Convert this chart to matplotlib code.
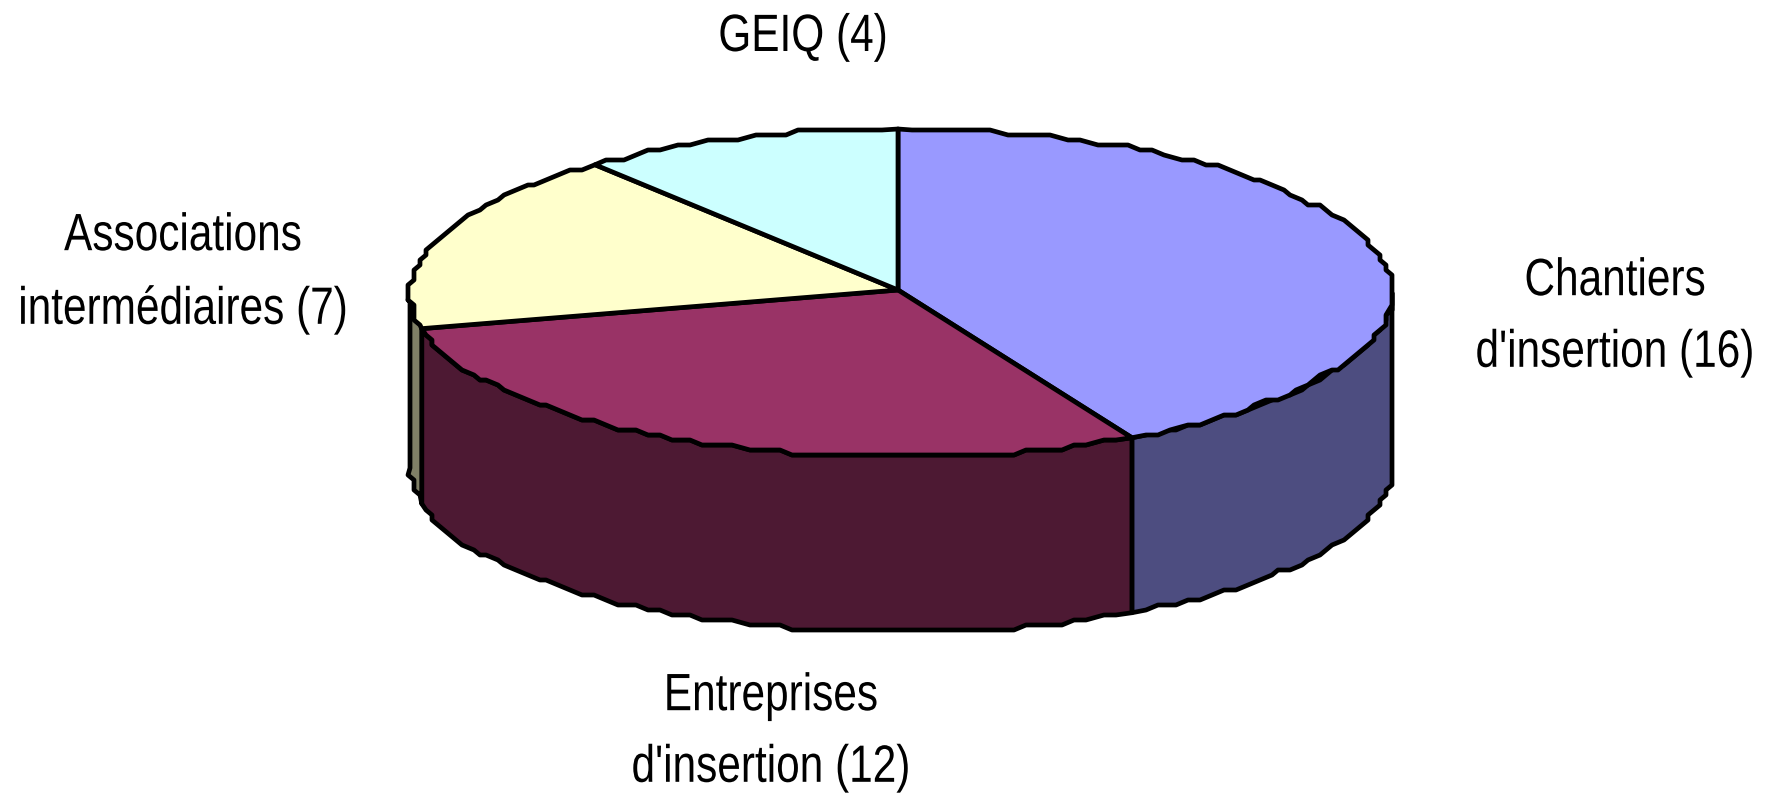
"""3D-look pie of insertion structures, drawn by hand since matplotlib has no 3D pie."""
import numpy as np
import matplotlib
matplotlib.use("Agg")
import matplotlib.pyplot as plt
from matplotlib.patheffects import AbstractPathEffect

plt.rcParams["font.family"] = ["Liberation Sans", "DejaVu Sans"]

W, H = 1775, 796

# clockwise from 12 o'clock
names = ["Chantiers\nd'insertion", "Entreprises\nd'insertion", "Associations\nintermédiaires", "GEIQ"]
counts = [16, 12, 7, 4]
# slice sizes, they differ a bit from the counts
slice_deg = [152.3, 105.5, 64.0, 38.2]
top_colors = ["#9999FF", "#993366", "#FFFFCC", "#CCFFFF"]
side_colors = ["#4D4D80", "#4D1933", "#808066", "#668080"]
label_pos = [(1615, 320), (771, 735), (183, 276), (803, 40)]

APEX = (898, 290)
START = -0.35
CX, CY = 901, 293
RX, RY = 491, 164
DEPTH = 175
LW = 3.4


class TallText(AbstractPathEffect):
    """Stretch glyphs upward from the baseline, the original font is a narrow one."""

    def __init__(self, sy):
        super().__init__()
        self.sy = sy

    def draw_path(self, renderer, gc, tpath, affine, rgbFace=None):
        y0 = affine.transform((0, 0))[1]
        tall = affine + matplotlib.transforms.Affine2D().translate(0, -y0).scale(1, self.sy).translate(0, y0)
        renderer.draw_path(gc, tpath, tall, rgbFace)


def rim(a0, a1):
    # stepped outline like the low-res original
    n = max(int((a1 - a0) / 1.8), 2)
    t = np.radians(np.linspace(a0, a1, n))
    x = CX + RX * np.sin(t)
    y = CY - RY * np.cos(t)
    xs = np.round(x / 6) * 6
    ys = np.round(y / 5) * 5
    xs[0], ys[0] = x[0], y[0]
    xs[-1], ys[-1] = x[-1], y[-1]
    return xs, ys


fig = plt.figure(figsize=(W / 100, H / 100), dpi=100)
ax = fig.add_axes([0, 0, 1, 1])
ax.set_xlim(0, W)
ax.set_ylim(H, 0)
ax.axis("off")

edges = START + np.concatenate([[0], np.cumsum(slice_deg)])

# sides first, only the front half of the rim shows
for i in range(len(counts)):
    a0, a1 = max(edges[i], 90), min(edges[i + 1], 270)
    if a1 <= a0:
        continue
    x, y = rim(a0, a1)
    px = np.concatenate([x, x[::-1]])
    py = np.concatenate([y, y[::-1] + DEPTH])
    ax.fill(px, py, facecolor=side_colors[i], edgecolor="black", lw=LW, joinstyle="round")

# top faces
for i in range(len(counts)):
    x, y = rim(edges[i], edges[i + 1])
    px = np.concatenate([[APEX[0]], x])
    py = np.concatenate([[APEX[1]], y])
    ax.fill(px, py, facecolor=top_colors[i], edgecolor="black", lw=LW, joinstyle="round")

for name, n, (lx, ly) in zip(names, counts, label_pos):
    ax.text(lx, ly, f"{name} ({n})", ha="center", va="center", fontsize=30.5,
            color="black", linespacing=2.02, path_effects=[TallText(1.24)])

fig.savefig("out.png", dpi=100, facecolor="white")
